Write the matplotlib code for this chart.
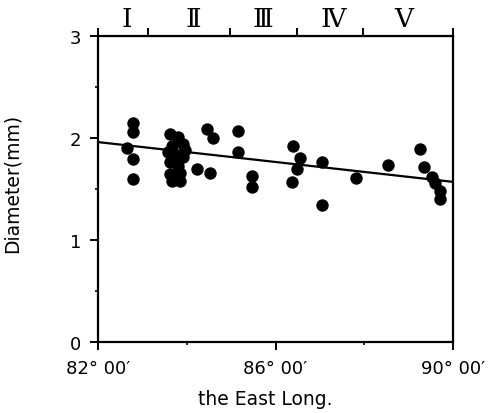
import matplotlib
matplotlib.use("Agg")
import matplotlib.pyplot as plt
import numpy as np

# Data
longitude = [82.65, 82.80, 82.80, 82.80, 82.80,
             83.62, 83.81, 83.92, 83.66, 83.96, 83.58, 83.77, 83.92, 83.62, 83.81,
             83.62, 83.85, 83.66, 83.85, 84.22, 84.52, 84.45, 84.60,
             85.16, 85.16, 85.46, 85.46,
             86.40, 86.55, 86.48, 86.37, 87.04, 87.04, 87.81, 88.53,
             89.26, 89.35, 89.52, 89.59, 89.71, 89.71]
diameter = [1.90, 2.15, 2.06, 1.79, 1.60,
            2.04, 2.01, 1.94, 1.92, 1.88, 1.86, 1.83, 1.81, 1.76, 1.73,
            1.65, 1.66, 1.58, 1.58, 1.70, 1.66, 2.09, 2.00,
            2.07, 1.86, 1.63, 1.52,
            1.92, 1.80, 1.70, 1.57, 1.76, 1.34, 1.61, 1.74,
            1.89, 1.72, 1.62, 1.56, 1.48, 1.40]
trend_x = [82.0, 90.0]
trend_y = [1.96, 1.57]
region_bounds = [82, 83.13, 84.97, 86.48, 87.97, 90]
region_labels = ["Ⅰ", "Ⅱ", "Ⅲ", "Ⅳ", "Ⅴ"]
region_label_x = [82.65, 84.15, 85.72, 87.30, 88.88]
xtick_vals = [82, 86, 90]
xtick_labels = ["82° 00′", "86° 00′", "90° 00′"]
ytick_vals = [0, 1, 2, 3]

plt.rcParams['font.family'] = ['DejaVu Sans']
fig = plt.figure(figsize=(4.88, 4.14), dpi=100)
ax = fig.add_axes([0.2008, 0.1715, 0.7275, 0.7391])

ax.scatter(longitude, diameter, s=80, color='black', zorder=3, linewidths=0)
ax.plot(trend_x, trend_y, color='black', lw=1.6, zorder=2)

ax.set_xlim(82, 90)
ax.set_ylim(0, 3)
ax.set_xticks(xtick_vals)
ax.set_xticklabels(xtick_labels, fontsize=13)
ax.set_xticks([84, 88], minor=True)
ax.set_yticks(ytick_vals)
ax.set_yticklabels([str(v) for v in ytick_vals], fontsize=13)
ax.set_yticks([0.5, 1.5, 2.5], minor=True)
ax.tick_params(axis='x', which='major', direction='out', length=6, width=1.4, pad=6)
ax.tick_params(axis='y', which='major', direction='out', length=6, width=1.4, pad=6)
ax.tick_params(axis='both', which='minor', direction='out', length=2.5, width=1.2)
for sp in ax.spines.values():
    sp.set_linewidth(1.6)

ax.set_xlabel("the East Long.", fontsize=13.5)
ax.xaxis.set_label_coords(0.47, -0.155)
ax.set_ylabel("Diameter(mm)", fontsize=13.5)
ax.yaxis.set_label_coords(-0.215, 0.52)

# top axis with region boundaries
top = ax.secondary_xaxis('top')
top.set_xticks(region_bounds)
top.set_xticklabels([])
top.tick_params(axis='x', direction='out', length=6, width=1.4)
for lx, lab in zip(region_label_x, region_labels):
    ax.text(lx, 3.095, lab, ha='center', va='baseline', fontsize=19,
            family=['DejaVu Serif', 'Noto Sans CJK JP'])

fig.savefig("out.png", dpi=100)
